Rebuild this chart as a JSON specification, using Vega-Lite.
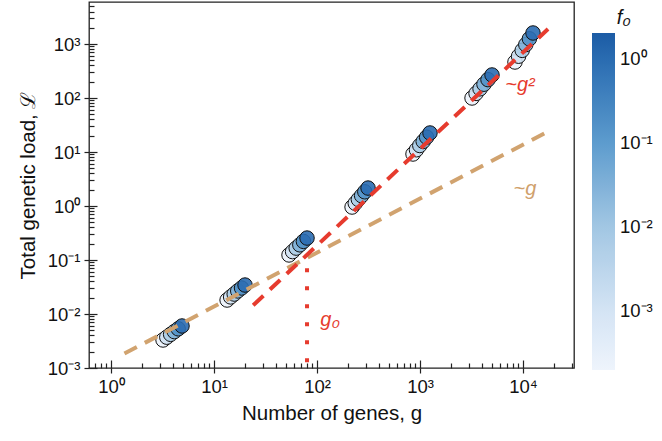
{
  "$schema": "https://vega.github.io/schema/vega-lite/v6.json",
  "width": 485,
  "height": 366,
  "autosize": "none",
  "padding": {"left": 89, "top": 2, "right": 88, "bottom": 73},
  "config": {
    "font": "Liberation Sans",
    "view": {"stroke": "#222222", "strokeWidth": 1.3},
    "axis": {"grid": false, "domain": false, "tickColor": "#222222", "tickWidth": 1.2, "labelColor": "#111111", "titleColor": "#111111", "titleFontWeight": "normal"}
  },
  "datasets": {
    "pts": [
      {"g": 3.20, "L": 0.00330, "f0": 0.00025}, {"g": 3.48, "L": 0.00372, "f0": 0.0013}, {"g": 3.79, "L": 0.00420, "f0": 0.0063}, {"g": 4.12, "L": 0.00472, "f0": 0.032}, {"g": 4.49, "L": 0.00532, "f0": 0.16}, {"g": 4.89, "L": 0.00600, "f0": 1},
      {"g": 13.4, "L": 0.01815, "f0": 0.00025}, {"g": 14.5, "L": 0.0207, "f0": 0.0013}, {"g": 15.7, "L": 0.0234, "f0": 0.0063}, {"g": 17.0, "L": 0.0267, "f0": 0.032}, {"g": 18.5, "L": 0.0303, "f0": 0.16}, {"g": 20.0, "L": 0.0344, "f0": 1},
      {"g": 53.5, "L": 0.124, "f0": 0.00025}, {"g": 57.9, "L": 0.143, "f0": 0.0013}, {"g": 62.8, "L": 0.166, "f0": 0.0063}, {"g": 68.1, "L": 0.191, "f0": 0.032}, {"g": 73.8, "L": 0.221, "f0": 0.16}, {"g": 80.0, "L": 0.255, "f0": 1},
      {"g": 219, "L": 0.957, "f0": 0.00025}, {"g": 235, "L": 1.125, "f0": 0.0013}, {"g": 252, "L": 1.324, "f0": 0.0063}, {"g": 271, "L": 1.556, "f0": 0.032}, {"g": 291, "L": 1.832, "f0": 0.16}, {"g": 313, "L": 2.15, "f0": 1},
      {"g": 855, "L": 9.18, "f0": 0.00025}, {"g": 923, "L": 11.0, "f0": 0.0013}, {"g": 995, "L": 13.2, "f0": 0.0063}, {"g": 1074, "L": 15.7, "f0": 0.032}, {"g": 1159, "L": 18.8, "f0": 0.16}, {"g": 1250, "L": 22.5, "f0": 1},
      {"g": 3200, "L": 100, "f0": 0.00025}, {"g": 3500, "L": 121.6, "f0": 0.0013}, {"g": 3828, "L": 148, "f0": 0.0063}, {"g": 4178, "L": 180, "f0": 0.032}, {"g": 4571, "L": 219, "f0": 0.16}, {"g": 5000, "L": 267, "f0": 1},
      {"g": 8356, "L": 464, "f0": 0.00025}, {"g": 9057, "L": 594, "f0": 0.0013}, {"g": 9817, "L": 762, "f0": 0.0063}, {"g": 10641, "L": 975, "f0": 0.032}, {"g": 11535, "L": 1250, "f0": 0.16}, {"g": 12503, "L": 1600, "f0": 1}
    ],
    "tan": [{"g": 1.35, "L": 0.00185}, {"g": 17500, "L": 24.0}],
    "red": [{"g": 24, "L": 0.0145}, {"g": 17500, "L": 1900}],
    "g0": [{"g": 80, "L": 0.07}, {"g": 80, "L": 0.001}],
    "labels": [
      {"g": 134, "L": 0.0077, "t": "g₀", "c": "#e63b2e"},
      {"g": 9350, "L": 174, "t": "~g²", "c": "#e63b2e"},
      {"g": 10450, "L": 2.07, "t": "~g", "c": "#cfa06b"}
    ]
  },
  "resolve": {"axis": {"x": "independent", "y": "independent"}},
  "layer": [
    {
      "data": {"name": "pts"},
      "mark": {"type": "circle", "size": 210, "stroke": "#111111", "strokeWidth": 1, "opacity": 1, "fillOpacity": 0.9},
      "encoding": {
        "x": {"field": "g", "type": "quantitative", "scale": {"type": "log", "domain": [0.6114, 31270], "nice": false},
          "axis": {"orient": "bottom", "values": [1, 10, 100, 1000, 10000], "labelExpr": "'10' + ['⁰','¹','²','³','⁴'][round(log(datum.value)/LN10)]", "tickSize": 5, "labelFontSize": 18.5, "labelPadding": 4, "title": "Number of genes, g", "titleFontSize": 20.5, "titlePadding": 8}},
        "y": {"field": "L", "type": "quantitative", "scale": {"type": "log", "domain": [0.001, 5998], "nice": false},
          "axis": {"orient": "left", "values": [0.001, 0.01, 0.1, 1, 10, 100, 1000], "labelExpr": "'10' + (datum.value < 1 ? '⁻' : '') + ['⁰','¹','²','³'][abs(round(log(datum.value)/LN10))]", "tickSize": 5, "labelFontSize": 18.5, "labelPadding": 4, "title": "Total genetic load, ℒ", "titleFontSize": 20.5, "titlePadding": 9}},
        "fill": {"field": "f0", "type": "quantitative",
          "scale": {"type": "log", "domain": [0.0002, 0.001, 0.01, 0.1, 1, 2.05], "range": ["#eef4fc", "#d4e4f4", "#a2c7e3", "#5d9cce", "#2a6cb1", "#1c5ba5"]},
          "legend": {"orient": "none", "legendX": 503, "legendY": 6, "direction": "vertical", "gradientLength": 337, "gradientThickness": 23, "gradientStrokeWidth": 0, "values": [0.001, 0.01, 0.1, 1], "labelExpr": "'10' + (datum.value < 1 ? '⁻' : '') + ['⁰','¹','²','³'][abs(round(log(datum.value)/LN10))]", "labelFontSize": 18.5, "labelOffset": 5, "labelColor": "#111111", "title": "f₀\u00a0\u00a0\u00a0\u00a0\u200b", "titleFontStyle": "italic", "titleFontSize": 20, "titleFontWeight": "normal", "titlePadding": 5, "titleAnchor": "end", "titleColor": "#111111"}}
      }
    },
    {
      "data": {"name": "tan"},
      "mark": {"type": "line", "color": "#d1a36f", "strokeWidth": 4, "strokeDash": [14, 9]},
      "encoding": {
        "x": {"field": "g", "type": "quantitative",
          "axis": {"orient": "bottom", "values": [0.7, 0.8, 0.9, 1, 2, 3, 4, 5, 6, 7, 8, 9, 10, 20, 30, 40, 50, 60, 70, 80, 90, 100, 200, 300, 400, 500, 600, 700, 800, 900, 1000, 2000, 3000, 4000, 5000, 6000, 7000, 8000, 9000, 10000, 20000, 30000], "labels": false, "title": null, "tickSize": {"condition": {"test": "indexof([1,10,100,1000,10000], datum.value) >= 0", "value": -8}, "value": -5}}},
        "y": {"field": "L", "type": "quantitative",
          "axis": {"orient": "left", "values": [0.001, 0.002, 0.003, 0.004, 0.005, 0.006, 0.007, 0.008, 0.009, 0.01, 0.02, 0.03, 0.04, 0.05, 0.06, 0.07, 0.08, 0.09, 0.1, 0.2, 0.3, 0.4, 0.5, 0.6, 0.7, 0.8, 0.9, 1, 2, 3, 4, 5, 6, 7, 8, 9, 10, 20, 30, 40, 50, 60, 70, 80, 90, 100, 200, 300, 400, 500, 600, 700, 800, 900, 1000, 2000, 3000, 4000, 5000], "labels": false, "title": null, "tickSize": {"condition": {"test": "indexof([0.001,0.01,0.1,1,10,100,1000], datum.value) >= 0", "value": -8}, "value": -5}}}
      }
    },
    {
      "data": {"name": "red"},
      "mark": {"type": "line", "color": "#e63b2e", "strokeWidth": 4, "strokeDash": [14, 9]},
      "encoding": {
        "x": {"field": "g", "type": "quantitative", "axis": null},
        "y": {"field": "L", "type": "quantitative", "axis": null}
      }
    },
    {
      "data": {"name": "g0"},
      "mark": {"type": "line", "color": "#e63b2e", "strokeWidth": 4, "strokeDash": [4, 14]},
      "encoding": {
        "x": {"field": "g", "type": "quantitative", "axis": null},
        "y": {"field": "L", "type": "quantitative", "axis": null}
      }
    },
    {
      "data": {"name": "labels"},
      "mark": {"type": "text", "fontSize": 20, "fontStyle": "italic", "align": "center", "baseline": "middle"},
      "encoding": {
        "x": {"field": "g", "type": "quantitative", "axis": null},
        "y": {"field": "L", "type": "quantitative", "axis": null},
        "text": {"field": "t"},
        "color": {"field": "c", "type": "nominal", "scale": null}
      }
    }
  ]
}
